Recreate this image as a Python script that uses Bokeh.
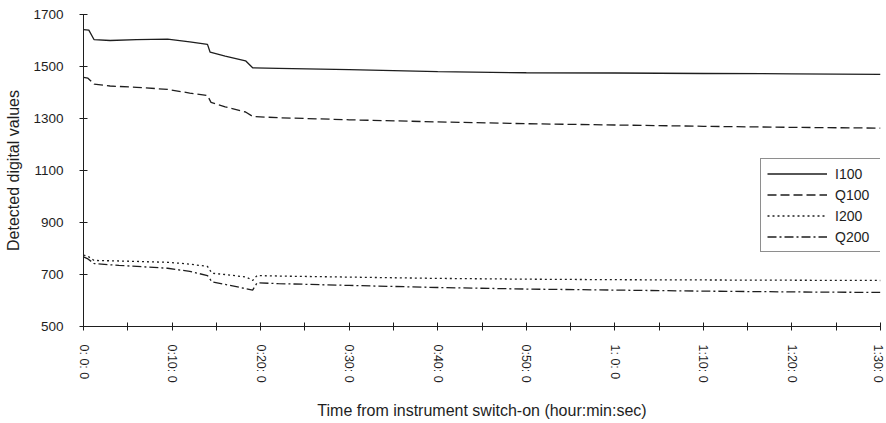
from bokeh.plotting import figure
from bokeh.models import FixedTicker, Legend, LegendItem, Range1d
from bokeh.embed import file_html
from bokeh.resources import INLINE

# Time from switch-on, minutes
t_i100 = [0, 0.6, 1.2, 3, 6, 9.5, 12, 14, 14.3, 16, 18.3, 19.1, 22, 30, 40, 50, 60, 70, 80, 90]
v_i100 = [1642, 1640, 1603, 1600, 1603, 1605, 1595, 1585, 1555, 1540, 1522, 1495, 1493, 1488, 1480, 1476, 1475, 1473, 1472, 1470]

t_q100 = [0, 0.5, 1.2, 3, 6, 9.5, 12, 14, 14.4, 16, 18.3, 19.1, 22, 30, 40, 50, 60, 70, 80, 90]
v_q100 = [1458, 1455, 1432, 1425, 1420, 1412, 1398, 1388, 1362, 1345, 1325, 1308, 1303, 1295, 1287, 1280, 1275, 1270, 1266, 1263]

t_i200 = [0, 0.5, 1.2, 4, 9.5, 12, 14, 14.5, 16, 18.4, 19.1, 19.6, 22, 30, 40, 50, 60, 70, 80, 90]
v_i200 = [775, 770, 754, 752, 747, 740, 731, 705, 700, 690, 677, 696, 694, 690, 685, 682, 680, 679, 678, 677]

t_q200 = [0, 0.5, 1.2, 4, 9.5, 12, 14, 14.5, 16, 18.4, 19.1, 19.6, 22, 30, 40, 50, 60, 70, 80, 90]
v_q200 = [768, 760, 742, 735, 724, 712, 696, 672, 662, 645, 640, 668, 665, 658, 650, 644, 640, 636, 633, 631]

x_ticks = [0, 10, 20, 30, 40, 50, 60, 70, 80, 90]
x_tick_labels = ["0: 0: 0", "0:10: 0", "0:20: 0", "0:30: 0", "0:40: 0",
                 "0:50: 0", "1: 0: 0", "1:10: 0", "1:20: 0", "1:30: 0"]
x_minor = [5, 15, 25, 35, 45, 55, 65, 75, 85]
y_ticks = [500, 700, 900, 1100, 1300, 1500, 1700]

FONT = "Liberation Sans"
INK = "#1e1e1e"

p = figure(width=884, height=421, output_backend="svg", toolbar_location=None,
           x_range=Range1d(0, 90), y_range=Range1d(500, 1700),
           min_border_left=83, min_border_right=4, min_border_top=14, min_border_bottom=95)
p.outline_line_color = None
p.grid.visible = False
p.background_fill_color = "white"

r1 = p.line(t_i100, v_i100, line_color=INK, line_width=1.3)
r2 = p.line(t_q100, v_q100, line_color=INK, line_width=1.3, line_dash="9 4")
r3 = p.line(t_i200, v_i200, line_color=INK, line_width=1.3, line_dash="2 3")
r4 = p.line(t_q200, v_q200, line_color=INK, line_width=1.3, line_dash="9 3 2 3")

xa = p.xaxis[0]
xa.ticker = FixedTicker(ticks=x_ticks, minor_ticks=x_minor)
xa.major_label_overrides = {k: v for k, v in zip(x_ticks, x_tick_labels)}
xa.major_label_orientation = "vertical"
xa.major_label_text_font = FONT
xa.major_label_text_font_size = "12.5px"
xa.major_label_text_color = INK
xa.major_label_standoff = 14
xa.axis_label = "Time from instrument switch-on (hour:min:sec)"
xa.axis_label_text_font = FONT
xa.axis_label_text_font_size = "16px"
xa.axis_label_text_font_style = "normal"
xa.axis_label_text_color = INK
xa.axis_label_standoff = 16
xa.axis_line_color = INK
xa.major_tick_line_color = INK
xa.minor_tick_line_color = INK
xa.major_tick_in = 4
xa.major_tick_out = 4
xa.minor_tick_in = 4
xa.minor_tick_out = 4

ya = p.yaxis[0]
ya.ticker = FixedTicker(ticks=y_ticks, minor_ticks=[])
ya.major_label_text_font = FONT
ya.major_label_text_font_size = "13.5px"
ya.major_label_text_color = INK
ya.major_label_standoff = 16
ya.axis_label = "Detected digital values"
ya.axis_label_text_font = FONT
ya.axis_label_text_font_size = "16px"
ya.axis_label_text_font_style = "normal"
ya.axis_label_text_color = INK
ya.axis_label_standoff = 8
ya.axis_line_color = INK
ya.major_tick_line_color = INK
ya.major_tick_in = 4
ya.major_tick_out = 4

legend = Legend(items=[LegendItem(label="I100", renderers=[r1]),
                       LegendItem(label="Q100", renderers=[r2]),
                       LegendItem(label="I200", renderers=[r3]),
                       LegendItem(label="Q200", renderers=[r4])],
                location=(677, 74))
legend.label_text_font = FONT
legend.label_text_font_size = "14px"
legend.label_text_color = INK
legend.glyph_width = 60
legend.glyph_height = 17
legend.label_height = 17
legend.label_width = 44
legend.label_standoff = 8
legend.spacing = 4
legend.padding = 6
legend.margin = 0
legend.border_line_color = INK
legend.border_line_width = 1
legend.background_fill_alpha = 1
p.add_layout(legend, "center")

open("out.html", "w").write(file_html(p, INLINE))
